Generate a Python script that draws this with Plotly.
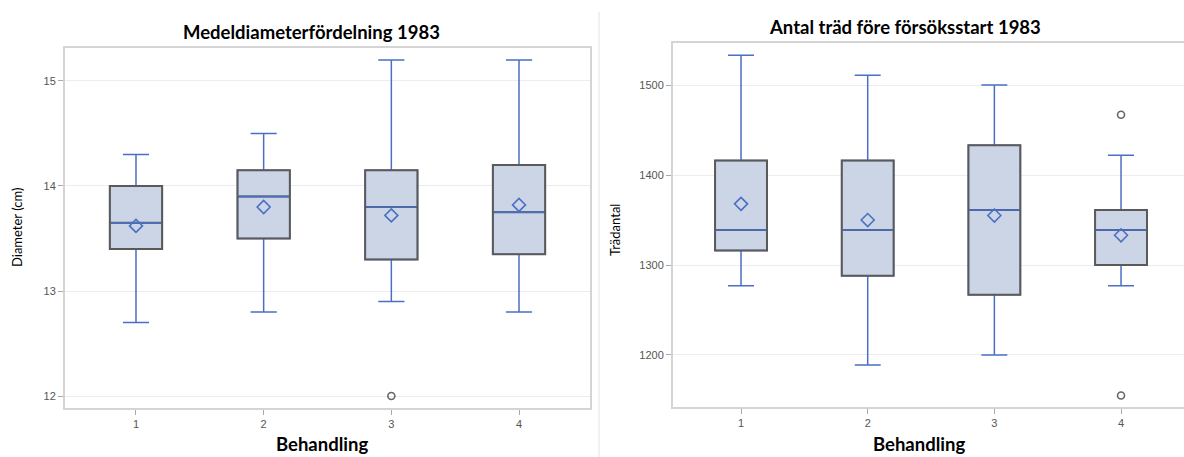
import plotly.graph_objects as go

# ---- data ----
categories = [1, 2, 3, 4]

# Left: Medeldiameter (cm)
d_low = [12.7, 12.8, 12.9, 12.8]
d_q1 = [13.4, 13.5, 13.3, 13.35]
d_med = [13.65, 13.9, 13.8, 13.75]
d_q3 = [14.0, 14.15, 14.15, 14.2]
d_high = [14.3, 14.5, 15.2, 15.2]
d_mean = [13.62, 13.8, 13.72, 13.82]
d_out_x = [3]
d_out_y = [12.0]

# Right: Trädantal
t_low = [1277, 1189, 1200, 1277]
t_q1 = [1316, 1288, 1267, 1300]
t_med = [1339, 1339, 1361, 1339]
t_q3 = [1416, 1416, 1433, 1361]
t_high = [1533, 1511, 1500, 1422]
t_mean = [1368, 1350, 1355, 1333]
t_out_x = [4, 4]
t_out_y = [1467, 1155]

BLUE = "#4a6fc4"
FILL = "#cbd5e6"
EDGE = "#5a5a5a"
FRAME = "#d4d4d4"
GRID = "#ececec"
TICKC = "#555555"
BOXW = 0.41

fig = go.Figure()


def add_panel(xa, ya, low, q1, med, q3, high, mean, ox, oy, medsize):
    # box with whiskers (blue)
    fig.add_trace(go.Box(
        x=categories, q1=q1, median=med, q3=q3, lowerfence=low, upperfence=high,
        width=BOXW, whiskerwidth=0.5, fillcolor=FILL,
        line=dict(color=BLUE, width=1.5), boxpoints=False,
        xaxis=xa, yaxis=ya, showlegend=False, hoverinfo="skip"))
    # gray box outline on top
    fig.add_trace(go.Box(
        x=categories, q1=q1, median=med, q3=q3, lowerfence=q1, upperfence=q3,
        width=BOXW, whiskerwidth=0, fillcolor="rgba(0,0,0,0)",
        line=dict(color=EDGE, width=2), boxpoints=False,
        xaxis=xa, yaxis=ya, showlegend=False, hoverinfo="skip"))
    # median line (blue)
    fig.add_trace(go.Scatter(
        x=categories, y=med, mode="markers",
        marker=dict(symbol="line-ew", size=medsize, line=dict(color=BLUE, width=1.5)),
        xaxis=xa, yaxis=ya, showlegend=False, hoverinfo="skip"))
    # mean diamonds
    fig.add_trace(go.Scatter(
        x=categories, y=mean, mode="markers",
        marker=dict(symbol="diamond-open", size=10, color=BLUE, line=dict(width=1.6)),
        xaxis=xa, yaxis=ya, showlegend=False, hoverinfo="skip"))
    # outliers
    fig.add_trace(go.Scatter(
        x=ox, y=oy, mode="markers",
        marker=dict(symbol="circle-open", size=7, color="#666666", line=dict(width=1.6)),
        xaxis=xa, yaxis=ya, showlegend=False, hoverinfo="skip"))


add_panel("x", "y", d_low, d_q1, d_med, d_q3, d_high, d_mean, d_out_x, d_out_y, 36)
add_panel("x2", "y2", t_low, t_q1, t_med, t_q3, t_high, t_mean, t_out_x, t_out_y, 36)

W, H = 1184, 457
tickfont = dict(family="Liberation Sans, Arial, sans-serif", size=11, color=TICKC)

common_x = dict(tickmode="array", tickvals=categories, ticktext=[str(c) for c in categories],
                showline=True, linecolor=FRAME, linewidth=2, showgrid=False, zeroline=False,
                ticks="outside", ticklen=5, tickcolor="#aaaaaa", tickfont=tickfont)
common_y = dict(showline=True, linecolor=FRAME, linewidth=2, showgrid=True, gridcolor=GRID,
                gridwidth=1, zeroline=False, ticks="outside", ticklen=5, tickcolor="#aaaaaa",
                tickfont=tickfont)

fig.update_layout(
    width=W, height=H,
    margin=dict(l=0, r=0, t=0, b=0),
    paper_bgcolor="white", plot_bgcolor="white",
    boxmode="overlay",
    xaxis=dict(domain=[65 / W, 590 / W], range=[0.444, 4.556], mirror=True, anchor="y", **common_x),
    yaxis=dict(domain=[(H - 408) / H, (H - 48) / H], range=[11.886, 15.314], mirror=True,
               tickvals=[12, 13, 14, 15], anchor="x", **common_y),
    xaxis2=dict(domain=[673 / W, 1.0], range=[0.463, 4.497], mirror=True, anchor="y2", **common_x),
    yaxis2=dict(domain=[(H - 407) / H, (H - 43) / H], range=[1142.2, 1546.7], mirror=False,
                tickvals=[1200, 1300, 1400, 1500], anchor="x2", **common_y),
    shapes=[dict(type="line", xref="paper", yref="paper", x0=599 / W, x1=599 / W,
                 y0=0, y1=(H - 12) / H, line=dict(color="#e2e2e2", width=1))],
)

title_font = dict(family="Lato, Open Sans, sans-serif", size=18.5, color="black")
ann = [
    dict(text="<b>Medeldiameterfördelning 1983</b>", x=311 / W, y=(H - 32) / H, font=title_font),
    dict(text="<b>Antal träd före försöksstart 1983</b>", x=905 / W, y=(H - 27) / H, font=title_font),
    dict(text="<b>Behandling</b>", x=322 / W, y=0, yanchor="bottom", font=title_font),
    dict(text="<b>Behandling</b>", x=919 / W, y=0, yanchor="bottom", font=title_font),
    dict(text="Diameter (cm)", x=17 / W, y=(H - 228) / H, textangle=-90,
         font=dict(family="Lato, Open Sans, sans-serif", size=13, color="black")),
    dict(text="Trädantal", x=615 / W, y=(H - 230) / H, textangle=-90,
         font=dict(family="Lato, Open Sans, sans-serif", size=13, color="black")),
]
for a in ann:
    a.setdefault("yanchor", "middle")
    a.update(xref="paper", yref="paper", showarrow=False, xanchor="center")
fig.update_layout(annotations=ann)

fig.write_html("out.html")
